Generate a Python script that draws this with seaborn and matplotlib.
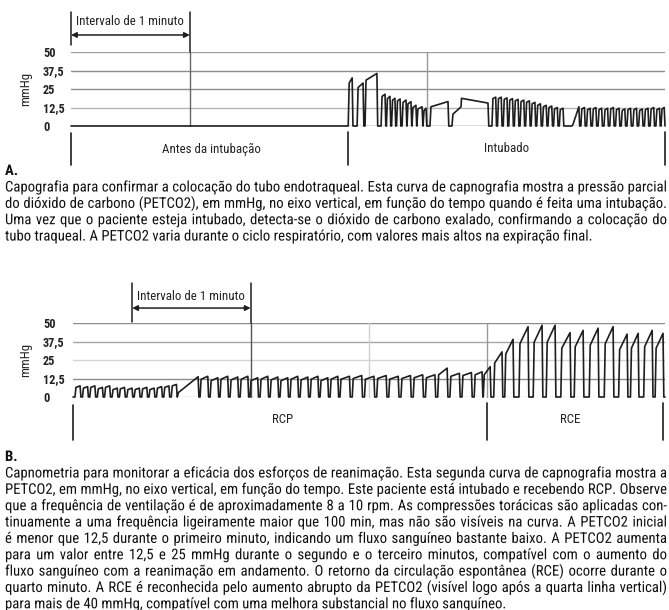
import os
import matplotlib
matplotlib.use("Agg")
import matplotlib.pyplot as plt
import seaborn as sns
import pandas as pd
from matplotlib import font_manager
from matplotlib.font_manager import FontProperties
from matplotlib.transforms import blended_transform_factory, Affine2D, IdentityTransform
from matplotlib.textpath import TextPath, text_to_path
from matplotlib.patches import PathPatch

# Breath data (time in s, 5 min per chart; CO2 in mmHg)
# each breath: onset, end of plateau, level after upstroke, level at end

top_on = [140.0, 144.5, 148.5, 156.6, 159.3, 161.9, 164.4, 167.2, 169.7, 172.2, 174.7, 177.8,
          181.3, 192.4, 197.0,
          212.6, 215.4, 218.3, 221.1, 223.9, 226.8, 229.6, 232.4, 235.2, 238.1, 240.9, 243.7, 246.6,
          253.0,
          257.5, 260.4, 263.3, 266.2, 269.2, 272.1, 275.0, 277.9, 280.8, 283.8, 286.7, 289.6, 292.5,
          295.4, 298.0]
top_off = [142.0, 147.5, 154.5, 158.6, 161.1, 163.6, 166.2, 169.2, 171.7, 174.2, 177.3, 179.3,
           190.4, 197.0, 210.6,
           214.5, 217.3, 220.2, 223.0, 225.8, 228.7, 231.5, 234.3, 237.1, 240.0, 242.8, 245.6, 248.5,
           256.5,
           259.3, 262.2, 265.1, 268.0, 271.0, 273.9, 276.8, 279.7, 282.6, 285.6, 288.5, 291.4, 294.3,
           297.2, 299.6]
top_rise = [29, 26, 31, 20, 18.5, 17.5, 17, 16, 15, 12.5, 11.5, 10.5,
            13, 8, 18.7,
            18.5, 18.5, 18, 17.5, 17, 16.5, 16, 15, 14, 13, 12.5, 11.5, 11,
            1,
            11.5, 11, 11.5, 11, 11, 11.5, 11, 10.5, 11, 11, 10.5, 11, 11.5, 11, 11.5]
top_peak = [32.5, 29, 35.5, 21.5, 20, 18.7, 18.2, 17.5, 16.4, 14, 13, 12,
            16.5, 13, 15.5,
            19.5, 19.5, 19, 18.5, 18, 17.5, 17, 16, 15, 14, 13.5, 12.5, 12,
            13,
            12.5, 12, 12.5, 12, 12, 12.5, 12, 11.5, 12, 12, 11.5, 12, 12.5, 12, 12.5]

bot_on = [1.0, 4.8, 8.5, 12.3, 16.0, 19.8, 23.5, 27.3, 31.0, 34.8, 38.5, 42.3, 46.0, 49.8,
          52.9,
          64.4, 69.5, 74.5, 79.6, 84.7, 89.7, 94.8, 99.9, 104.9, 110.0, 115.1, 120.2, 125.2, 130.3,
          135.3, 141.5, 147.7, 153.9, 160.0, 166.2, 172.4, 178.6, 184.8, 191.0, 197.1, 203.3,
          207.9, 213.2, 218.8, 226.0, 233.2, 239.8, 247.2, 254.0, 261.6, 269.2, 276.5, 282.5,
          289.2, 295.0]
bot_off = [3.6, 7.4, 11.1, 14.9, 18.6, 22.4, 26.1, 29.9, 33.6, 37.4, 41.1, 44.9, 48.6, 52.4,
           63.4,
           68.3, 73.4, 78.4, 83.5, 88.6, 93.6, 98.7, 103.8, 108.8, 113.9, 119.0, 124.1, 129.1, 134.2,
           140.1, 146.3, 152.5, 158.7, 164.8, 171.0, 177.2, 183.4, 189.6, 195.8, 201.9, 207.3,
           211.4, 217.4, 223.0, 230.6, 237.7, 244.3, 251.9, 258.5, 266.1, 273.7, 280.8, 286.4,
           293.5, 299.0]
bot_rise = [6.5, 6, 6.5, 5.5, 6.5, 5, 5.5, 5, 5, 5.5, 5, 6, 6.5, 7.5,
            3,
            12, 11, 12, 11.5, 12, 11, 12, 11.5, 11, 12, 11.5, 12, 11, 12,
            12, 12.5, 12, 12.5, 12, 12.5, 13, 13, 15, 14, 14.5, 15,
            15, 23, 29, 36, 37, 37, 33, 34, 35, 36, 32, 33, 34, 33]
bot_peak = [7.5, 7, 7.5, 6.5, 7.5, 6, 6.5, 6, 6, 6.5, 6, 7, 7.5, 8.5,
            13.7,
            14, 13, 14, 13.5, 14, 13, 14, 13.5, 13, 14, 13.5, 14, 13, 14,
            14, 14.5, 14, 14.5, 14, 14.5, 15, 15, 19.5, 16, 16.5, 17,
            20.5, 30.5, 39, 47.5, 48.5, 48.5, 43.5, 45, 46.5, 47.5, 42.5, 43, 45, 43]

levels = [0, 12.5, 25, 37.5, 50]
level_labels = ["0", "12,5", "25", "37,5", "50"]

text_a = [
    "Capografia para confirmar a colocação do tubo endotraqueal. Esta curva de capnografia mostra a pressão parcial",
    "do dióxido de carbono (PETCO2), em mmHg, no eixo vertical, em função do tempo quando é feita uma intubação.",
    "Uma vez que o paciente esteja intubado, detecta-se o dióxido de carbono exalado, confirmando a colocação do",
    "tubo traqueal. A PETCO2 varia durante o ciclo respiratório, com valores mais altos na expiração final.",
]
text_b = [
    "Capnometria para monitorar a eficácia dos esforços de reanimação. Esta segunda curva de capnografia mostra a",
    "PETCO2, em mmHg, no eixo vertical, em função do tempo. Este paciente está intubado e recebendo RCP. Observe",
    "que a frequência de ventilação é de aproximadamente 8 a 10 rpm. As compressões torácicas são aplicadas con-",
    "tinuamente a uma frequência ligeiramente maior que 100 min, mas não são visíveis na curva. A PETCO2 inicial",
    "é menor que 12,5 durante o primeiro minuto, indicando um fluxo sanguíneo bastante baixo. A PETCO2 aumenta",
    "para um valor entre 12,5 e 25 mmHg durante o segundo e o terceiro minutos, compatível com o aumento do",
    "fluxo sanguíneo com a reanimação em andamento. O retorno da circulação espontânea (RCE) ocorre durante o",
    "quarto minuto. A RCE é reconhecida pelo aumento abrupto da PETCO2 (visível logo após a quarta linha vertical)",
    "para mais de 40 mmHg, compatível com uma melhora substancial no fluxo sanguíneo.",
]

RISE = 0.5
FALL = 0.4
W, H = 669, 610


def build_trace(onsets, offsets, rises, peaks, t_end=300.0):
    ts, vs = [0.0], [0.0]
    n = len(onsets)
    for i in range(n):
        on, off, a, b = onsets[i], offsets[i], rises[i], peaks[i]
        if i > 0 and on - offsets[i - 1] < 0.05:
            ts += [on + 0.2, off]
            vs += [a, b]
        else:
            ts += [on, on + RISE, off]
            vs += [0, a, b]
        if not (i + 1 < n and onsets[i + 1] - off < 0.05):
            ts.append(min(off + FALL, t_end))
            vs.append(0)
    if ts[-1] < t_end:
        ts.append(t_end)
        vs.append(0)
    return pd.DataFrame({"t": ts, "mmHg": vs})


def pick_font(bold):
    found = []
    for f in font_manager.fontManager.ttflist:
        fn = os.path.basename(f.fname).lower()
        if "italic" in fn or "oblique" in fn or "light" in fn or "thin" in fn:
            continue
        if "narrow" in fn or "condensed" in fn:
            is_bold = ("bold" in fn and "semibold" not in fn) or f.weight in ("bold", 700)
            if is_bold == bold:
                found.append(f.fname)
    order = ["liberationsansnarrow", "robotocondensed", "dejavusanscondensed"]
    found.sort(key=lambda p: next((k for k, o in enumerate(order)
                                   if o in os.path.basename(p).lower().replace("-", "")), 9))
    return found[0] if found else None


reg_file = pick_font(False)
bold_file = pick_font(True)


def fp(size, bold=False):
    path = bold_file if bold else reg_file
    if path:
        return FontProperties(fname=path, size=size)
    return FontProperties(family="DejaVu Sans", size=size, weight="bold" if bold else "normal")


sns.set_style("white")
fig = plt.figure(figsize=(W / 100, H / 100), dpi=100)
ink = "#1e1e1e"


def fx(px):
    return px / W


def fy(py):
    return 1 - py / H


def draw_chart(rect_px, df, vlines, grid_cols, bracket, markers, labels):
    left, top, right, bottom = rect_px
    ax = fig.add_axes([fx(left), fy(bottom), (right - left) / W, (bottom - top) / H])
    ax.set_xlim(0, 300)
    ax.set_ylim(0, 50)
    ax.set_axis_off()
    for lv, col in zip(levels, grid_cols):
        ax.axhline(lv, color=col, lw=1.0, zorder=1)
    for t, col, y1 in vlines:
        ax.plot([t, t], [0, y1], color=col, lw=1.0, clip_on=False, zorder=1)
    sns.lineplot(data=df, x="t", y="mmHg", ax=ax, sort=False, estimator=None,
                 color=ink, linewidth=1.2, zorder=3)
    ax.lines[-1].set_clip_on(False)
    # interval bracket
    b0, b1, y_top, y_low, y_arr, y_txt = bracket
    ax.plot([b0, b0], [y_low, y_top], color=ink, lw=1.1, clip_on=False)
    ax.plot([b1, b1], [50, y_top], color=ink, lw=1.1, clip_on=False)
    ax.annotate("", xy=(b0, y_arr), xytext=(b1, y_arr), annotation_clip=False,
                arrowprops=dict(arrowstyle="<|-|>", color=ink, lw=1.1,
                                mutation_scale=8, shrinkA=0, shrinkB=0))
    ax.text(b0 + 2.3, y_txt, "Intervalo de 1 minuto", fontproperties=fp(9.3),
            ha="left", va="center_baseline", color="#222")
    for t, ya, yb in markers:
        ax.plot([t, t], [ya, yb], color=ink, lw=1.2, clip_on=False)
    for t, s in labels:
        ax.text(t, -14.5, s, fontproperties=fp(9.3), ha="center", va="center_baseline", color="#222")
    tr = blended_transform_factory(fig.transFigure, ax.transData)
    for lv, s in zip(levels, level_labels):
        ax.text(fx(43), lv, s, transform=tr, fontproperties=fp(8.8, True),
                ha="left", va="center_baseline", color="#222")
    fig.text(fx(26), fy((top + bottom) / 2), "mmHg", rotation=90, fontproperties=fp(9.3),
             ha="center", va="center", color="#222")
    return ax


top_df = build_trace(top_on, top_off, top_rise, top_peak)
bot_df = build_trace(bot_on, bot_off, bot_rise, bot_peak)

draw_chart((71, 52, 665, 126), top_df,
           vlines=[(60, "#666666", 50), (180, "#9a9a9a", 50)],
           grid_cols=["#555555", "#b5b5b5", "#8c8c8c", "#8c8c8c", "#a0a0a0"],
           bracket=(0, 60, 77, 54.5, 61.5, 71.5),
           markers=[(0, -4.5, -26.5), (140, -4, -26.5), (300, -4, -26.5)],
           labels=[(71, "Antes da intubação"), (220, "Intubado")])

draw_chart((73, 323, 665, 397), bot_df,
           vlines=[(90, "#555555", 50), (150, "#d0d0d0", 50), (210, "#9a9a9a", 50)],
           grid_cols=["#c8c8c8", "#8c8c8c", "#d5d5d5", "#a5a5a5", "#8c8c8c"],
           bracket=(30, 90, 77, 50.7, 60.1, 68.9),
           markers=[(0, -5.5, -29), (210, -4, -29), (299, -4, -29)],
           labels=[(106, "RCP"), (252, "RCE")])

# captions, justified like the source page; words drawn as outlines so
# every word sits on the same baseline
PX = 100 / 72


def adv(s, prop):
    w, _, _ = text_to_path.get_text_width_height_descent(s, prop, ismath=False)
    return w * PX


def put_word(s, prop, x, base, color="#111111"):
    path = TextPath((0, 0), s, prop=prop)
    tr = Affine2D().scale(PX).translate(x, H - base)
    fig.add_artist(PathPatch(path, transform=tr + IdentityTransform(),
                             facecolor=color, edgecolor="none", lw=0))


def paragraph(lines, y0, x0=5, x1=667, dy=16.35, size=10.6):
    span = x1 - x0
    prop = fp(size)
    space = adv("a a", prop) - adv("aa", prop)
    widest = max(sum(adv(w, prop) for w in ln.split()) + space * (len(ln.split()) - 1)
                 for ln in lines[:-1])
    if widest > span:
        size = size * span / widest * 0.99
        prop = fp(size)
        space = adv("a a", prop) - adv("aa", prop)
    for k, ln in enumerate(lines):
        words = ln.split()
        widths = [adv(w, prop) for w in words]
        gap = space
        if k < len(lines) - 1 and len(words) > 1:
            gap = (span - sum(widths)) / (len(words) - 1)
        x = x0
        base = y0 + k * dy + 5
        for s, w in zip(words, widths):
            put_word(s, prop, x, base)
            x += w + gap


put_word("A.", fp(10.6, True), 5, 175)
paragraph(text_a, 186.5)
put_word("B.", fp(10.6, True), 5, 461)
paragraph(text_b, 472.5)

fig.savefig("out.png", dpi=100)
